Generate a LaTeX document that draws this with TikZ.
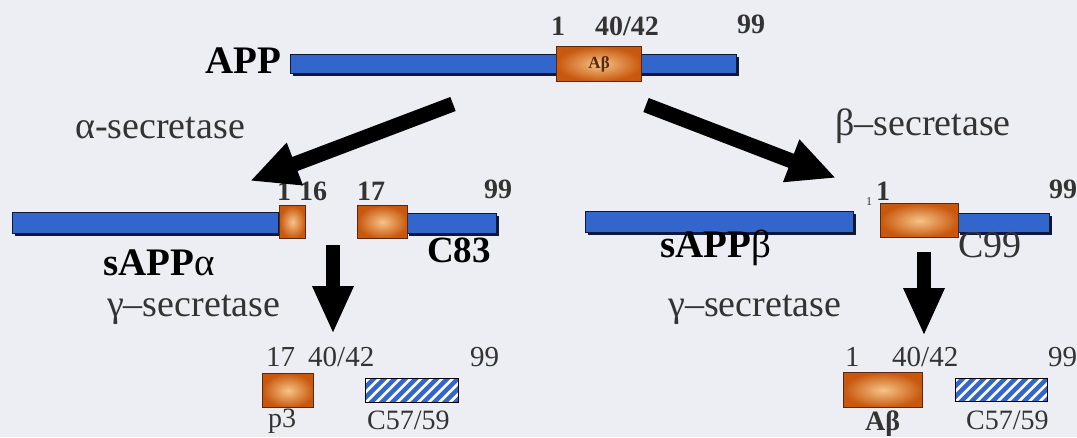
\documentclass[tikz,border=0pt]{standalone}
\usepackage{fontspec}
\setmainfont{Liberation Serif}
\usetikzlibrary{arrows.meta,shadows}
\definecolor{bg}{HTML}{EDEEF3}
\definecolor{barblue}{HTML}{3366CC}
\definecolor{barline}{HTML}{101838}
\definecolor{boxedge}{HTML}{5A2810}
\definecolor{boxout}{HTML}{C8580E}
\definecolor{boxin}{HTML}{F6C488}
\definecolor{txtgray}{HTML}{333333}
\tikzset{
  bar/.style={rectangle, inner sep=0pt, fill=barblue, draw=barline, line width=0.8pt,
    drop shadow={shadow xshift=3pt, shadow yshift=-3pt, fill=barline, opacity=1}},
  abox/.style={rectangle, inner sep=0pt, draw=boxedge, line width=1.2pt,
    inner color=boxin, outer color=boxout},
  hatch/.style={rectangle, inner sep=0pt, fill=barblue, draw=black, line width=1.2pt,
    path picture={
      \foreach \k in {-4,...,12}
        \draw[white, line width=2.6pt]
          ([xshift=\k*10.5pt]path picture bounding box.south west) -- ++(30pt,30pt);
    }},
  lbl/.style={anchor=base west, inner sep=0pt, text=txtgray},
  numb/.style={lbl, font=\fontsize{28}{30}\selectfont\bfseries},
  numr/.style={lbl, font=\fontsize{29}{31}\selectfont},
  enz/.style={lbl, font=\fontsize{38}{42}\selectfont},
  frag/.style={lbl, font=\fontsize{39}{44}\selectfont\bfseries, text=black},
  bigarrow/.style={line width=15pt, -{Triangle[width=42pt,length=48pt]}},
  downarrow/.style={line width=14pt, -{Triangle[width=38pt,length=48pt]}},
}
\begin{document}
\begin{tikzpicture}[x=1pt,y=-1pt]
% canvas
\fill[bg] (0,0) rectangle (1077,437);
\useasboundingbox (0,0) rectangle (1077,437);

% ---- full-length APP ----
\node[frag, text=black] (appname) at (205,73) {APP};
\node[bar, minimum width=446pt, minimum height=19pt, anchor=north west] (app) at (290,54) {};
\node[abox, minimum width=85pt, minimum height=35pt, anchor=north west] (abtop) at (556,46) {};
\node[font=\fontsize{17}{18}\selectfont\bfseries, text=boxedge] (abtoptxt) at (abtop.center) {Aβ};
\node[numb] (t1) at (551,35) {1};
\node[numb] (t4042) at (595,35) {40/42};
\node[numb] (t99) at (737,33) {99};

% ---- enzymes ----
\node[enz] (alpha) at (75,138) {α-secretase};
\node[enz] (beta) at (835,135) {β–secretase};
\node[enz] (gamL) at (107,316) {γ–secretase};
\node[enz] (gamR) at (668,316) {γ–secretase};

% ---- alpha branch ----
\node[bar, minimum width=266pt, minimum height=21pt, anchor=north west] (sappa) at (12,212) {};
\node[abox, minimum width=26pt, minimum height=33pt, anchor=north west] (p16) at (279,205) {};
\node[bar, minimum width=90pt, minimum height=20pt, anchor=north west] (c83bar) at (406,213) {};
\node[abox, minimum width=50pt, minimum height=33pt, anchor=north west] (c83box) at (357,205) {};
\node[numb] (m1) at (277,200) {1};
\node[numb] (m16) at (299,200) {16};
\node[numb] (m17) at (357,200) {17};
\node[numb] (m99) at (484,198) {99};
\node[frag] (sappaname) at (103,275) {sAPP\normalfont α};
\node[frag, font=\fontsize{37}{42}\selectfont\bfseries] (c83name) at (427,262) {C83};

% ---- beta branch ----
\node[bar, minimum width=268pt, minimum height=21pt, anchor=north west] (sappb) at (585,211) {};
\node[bar, minimum width=92pt, minimum height=19pt, anchor=north west] (c99bar) at (957,213) {};
\node[abox, minimum width=78pt, minimum height=34pt, anchor=north west] (c99box) at (880,203) {};
\node[lbl, font=\fontsize{12}{13}\selectfont] (mtiny) at (866,205) {1};
\node[numb] (mr1) at (876,200) {1};
\node[numb] (mr99) at (1049,198) {99};
\node[frag] (sappbname) at (660,257) {sAPP\normalfont β};
\node[enz] (c99name) at (958,257) {C99};

% ---- gamma products, alpha side ----
\node[abox, minimum width=51pt, minimum height=34pt, anchor=north west] (p3) at (262,373) {};
\node[hatch, minimum width=93pt, minimum height=24pt, anchor=north west] (c57l) at (365,378) {};
\node[numr] (b17) at (266,366) {17};
\node[numr] (b4042) at (308,366) {40/42};
\node[numr] (b99) at (470,366) {99};
\node[numr, font=\fontsize{28}{30}\selectfont] (p3name) at (268,427) {p3};
\node[numr, font=\fontsize{28}{30}\selectfont] (c57lname) at (367,429) {C57/59};

% ---- gamma products, beta side ----
\node[abox, minimum width=79pt, minimum height=35pt, anchor=north west] (abbot) at (843,372) {};
\node[hatch, minimum width=92pt, minimum height=23pt, anchor=north west] (c57r) at (955,378) {};
\node[numr] (br1) at (845,366) {1};
\node[numr] (br4042) at (892,366) {40/42};
\node[numr] (br99) at (1048,366) {99};
\node[numr, font=\fontsize{28}{30}\selectfont\bfseries] (abname) at (865,430) {Aβ};
\node[numr, font=\fontsize{28}{30}\selectfont] (c57rname) at (966,429) {C57/59};

% ---- cleavage arrows ----
\coordinate (aStart) at (453,104);
\coordinate (aTip) at (250,181);
\coordinate (bStart) at (646,105);
\coordinate (bTip) at (836,178);
\coordinate (gLStart) at (333,245);
\coordinate (gLTip) at (333,334);
\coordinate (gRStart) at (924,252);
\coordinate (gRTip) at (924,336);
\draw[bigarrow] (aStart) -- (aTip);
\draw[bigarrow] (bStart) -- (bTip);
\draw[downarrow] (gLStart) -- (gLTip);
\draw[downarrow] (gRStart) -- (gRTip);
\end{tikzpicture}
\end{document}
